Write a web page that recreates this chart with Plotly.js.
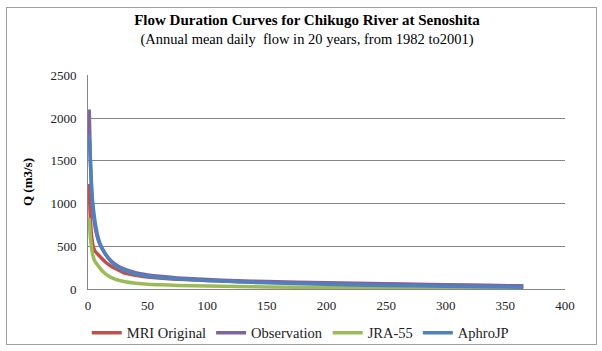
<!DOCTYPE html>
<html>
<head>
<meta charset="utf-8">
<script src="https://cdn.plot.ly/plotly-3.0.1.min.js"></script>
<style>
html,body{margin:0;padding:0;background:#fff;}
#wrap{position:relative;width:602px;height:351px;}
#chart{width:602px;height:351px;}
#frame{position:absolute;left:6px;top:7px;width:589px;height:336px;border:1px solid #a0a0a0;pointer-events:none;}
</style>
</head>
<body>
<div id="wrap"><div id="chart"></div><div id="frame"></div></div>
<script>
const days = [1,2,3,4,5,6,8,10,12,15,20,25,30,40,50,60,75,100,125,150,200,250,300,365];
const mriOriginal = [1230,820,620,520,470,440,410,380,350,310,260,225,190,160,140,128,115,100,88,78,65,55,45,35];
const observation = [2100,1500,1150,950,820,720,600,520,470,400,320,270,235,190,165,148,130,110,97,88,72,60,50,35];
const jra55 = [830,600,480,400,350,320,280,245,210,175,130,105,88,68,56,50,42,34,28,24,18,14,10,6];
const aphroJP = [1800,1500,1200,1000,880,780,630,535,470,400,310,255,220,175,150,135,120,100,85,72,55,42,32,20];

const seriesNames = ['MRI Original','Observation','JRA-55','AphroJP'];
const seriesValues = [mriOriginal, observation, jra55, aphroJP];
const colors = ['#C0504D','#8064A2','#9BBB59','#4F81BD'];

const traces = seriesValues.map((v,i)=>({
  x: days, y: v, name: seriesNames[i], type:'scatter', mode:'lines',
  line:{color:colors[i], width:3.5, shape:'spline', smoothing:0.6}
}));

const font = "Liberation Serif, Times New Roman, serif";
const layout = {
  width:602, height:351,
  margin:{l:88, r:37, t:75, b:62},
  paper_bgcolor:'#fff', plot_bgcolor:'#fff',
  font:{family:font, size:13, color:'#222'},
  title:{
    text:'<b>Flow Duration Curves for Chikugo River at Senoshita</b><br><span style="font-size:14.5px">(Annual mean daily  flow in 20 years, from 1982 to2001)</span>',
    x:0.51, xanchor:'center', y:0.93, yanchor:'middle',
    font:{family:font, size:15, color:'#000'}
  },
  xaxis:{
    range:[0,400], dtick:50, tick0:0, showgrid:false, zeroline:false,
    showline:true, linecolor:'#868686', linewidth:1,
    ticks:'', ticklabelstandoff:4, tickfont:{family:font, size:13, color:'#222'}
  },
  yaxis:{
    range:[0,2503], dtick:500, tick0:0, showgrid:true, gridcolor:'#868686', gridwidth:1,
    zeroline:false, showline:true, linecolor:'#868686', linewidth:1,
    ticks:'', ticklabelstandoff:8, tickfont:{family:font, size:13, color:'#222'},
    title:{text:'<b>Q (m3/s)</b>', standoff:14, font:{family:font, size:13, color:'#000'}}
  },
  legend:{
    orientation:'h', x:0.445, xanchor:'center', yref:'container', y:0.052, yanchor:'middle',
    font:{family:font, size:14.5, color:'#222'}, itemwidth:30, tracegroupgap:0
  },
  showlegend:true
};
Plotly.newPlot('chart', traces, layout, {displayModeBar:false, staticPlot:true});
</script>
</body>
</html>
